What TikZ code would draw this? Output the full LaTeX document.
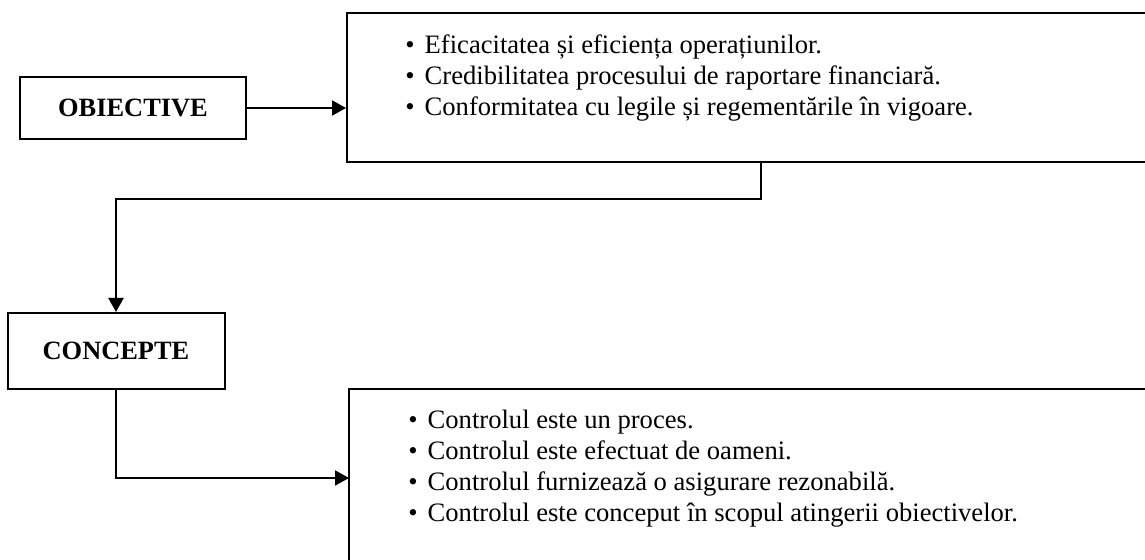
\documentclass[tikz,border=0pt]{standalone}
\usepackage{fontspec}
\setmainfont{Liberation Serif}
\usetikzlibrary{arrows.meta}
\newcommand{\bul}{\textbullet\hspace{5pt}}

\begin{document}
\begin{tikzpicture}[x=0.5pt,y=-0.5pt,
    cutie/.style={draw, line width=1pt, inner sep=0pt},
    titlu/.style={cutie, font=\fontsize{13.2}{15}\selectfont\bfseries},
    lista/.style={anchor=base west, inner sep=0pt, font=\fontsize{13.3}{15.35}\selectfont},
    sageata/.style={line width=1pt, -{Triangle[length=7pt,width=7.5pt]}}]

    \useasboundingbox (0,0) rectangle (1145,560);

    \node[titlu, minimum width=113pt, minimum height=31pt] (ob) at (133,108) {OBIECTIVE};
    \node[titlu, minimum width=108.5pt, minimum height=38pt] (co) at (116,351) {CONCEPTE};

    % casetele mari trec dincolo de marginea din dreapta
    \node[cutie, minimum width=451.5pt, minimum height=74.5pt] (c1) at (798.5,87.5) {};
    \node[cutie, minimum width=450.5pt, minimum height=125.5pt] (c2) at (799.5,514.5) {};

    \node[lista] (t1) at (405,54) {\begin{tabular}[t]{@{}l@{}}
        \bul Eficacitatea și eficiența operațiunilor.\\
        \bul Credibilitatea procesului de raportare financiară.\\
        \bul Conformitatea cu legile și regementările în vigoare.
    \end{tabular}};
    \node[lista] (t2) at (408,429) {\begin{tabular}[t]{@{}l@{}}
        \bul Controlul este un proces.\\
        \bul Controlul este efectuat de oameni.\\
        \bul Controlul furnizează o asigurare rezonabilă.\\
        \bul Controlul este conceput în scopul atingerii obiectivelor.
    \end{tabular}};

    \coordinate (cot1) at (761,199);
    \coordinate (cot2) at (349,478);

    \draw[sageata] (ob.east) -- (ob.east -| c1.west);
    \draw[sageata] (c1.south -| cot1) -- (cot1) -| (co.north);
    \draw[sageata] (co.south) |- (cot2);

\end{tikzpicture}
\end{document}
